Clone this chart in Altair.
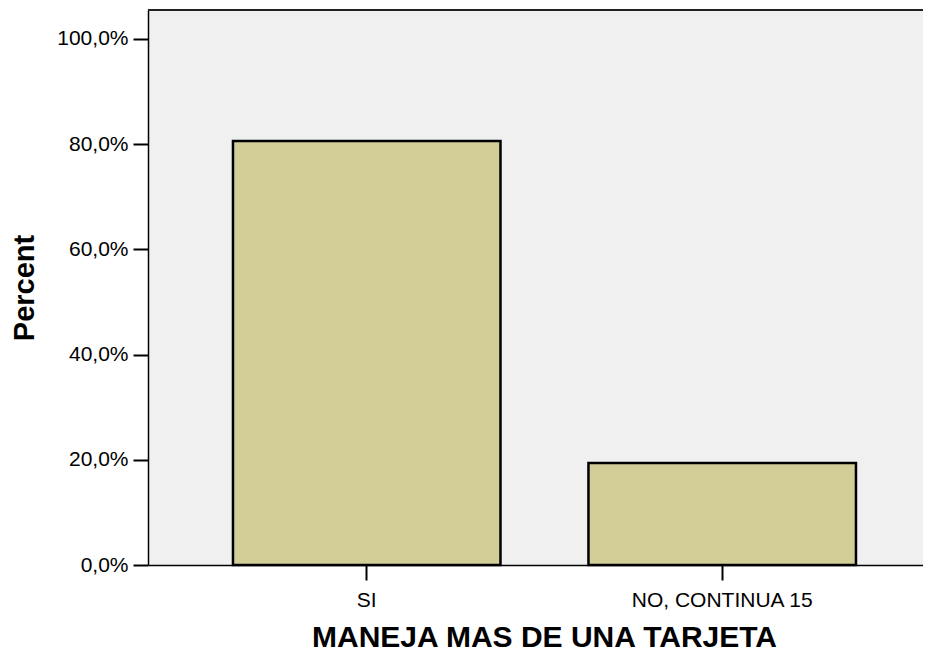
import altair as alt
import pandas as pd

categories = ["SI", "NO, CONTINUA 15"]
percents = [80.6, 19.4]
y_ticks = [0, 20, 40, 60, 80, 100]

df = pd.DataFrame({"cat": categories, "pct": percents})

FONT = "Liberation Sans"
W, H = 775, 555

bars = alt.Chart(df).mark_bar(
    color="#D3CE98", stroke="#000000", strokeWidth=2.5
).encode(
    x=alt.X(
        "cat:N",
        sort=categories,
        title="MANEJA MAS DE UNA TARJETA",
        scale=alt.Scale(paddingInner=0.2475, paddingOuter=0.2138, align=0.559),
        axis=alt.Axis(
            labelAngle=0, labelFontSize=21, labelFont=FONT, labelColor="#000000",
            labelPadding=9, labelLimit=0, tickSize=15, tickWidth=2, tickColor="#000000",
            domainColor="#000000", domainWidth=1.5,
            titleFont=FONT, titleFontSize=30, titleFontWeight="bold", titleColor="#000000",
            titleBaseline="alphabetic", titleY=81, titleX=396, titlePadding=0,
        ),
    ),
    y=alt.Y(
        "pct:Q",
        title="Percent",
        scale=alt.Scale(domain=[0, 105.5], nice=False, zero=True),
        axis=alt.Axis(
            values=y_ticks, grid=False,
            labelExpr="replace(format(datum.value, '.1f'), '.', ',') + '%'",
            labelFontSize=21, labelFont=FONT, labelColor="#000000", labelPadding=5,
            tickSize=15, tickWidth=2, tickColor="#000000",
            domainColor="#000000", domainWidth=1.5,
            titleFont=FONT, titleFontSize=29, titleFontWeight="bold", titleColor="#000000",
            titleBaseline="alphabetic", titleX=-115, titlePadding=0,
        ),
    ),
)

top_line = alt.Chart(df).mark_rule(color="#222222", strokeWidth=2).encode(
    x=alt.value(0), x2=alt.value(W), y=alt.value(0)
)

chart = alt.layer(bars, top_line).properties(
    width=W,
    height=H,
    autosize=alt.AutoSizeParams(type="none"),
    padding={"left": 140, "top": 2, "right": 0, "bottom": 92},
    background="#FFFFFF",
).configure_view(
    fill="#F0F0F0", strokeWidth=0
)

chart.save("out.html", embed_options={"renderer": "svg", "actions": False})
